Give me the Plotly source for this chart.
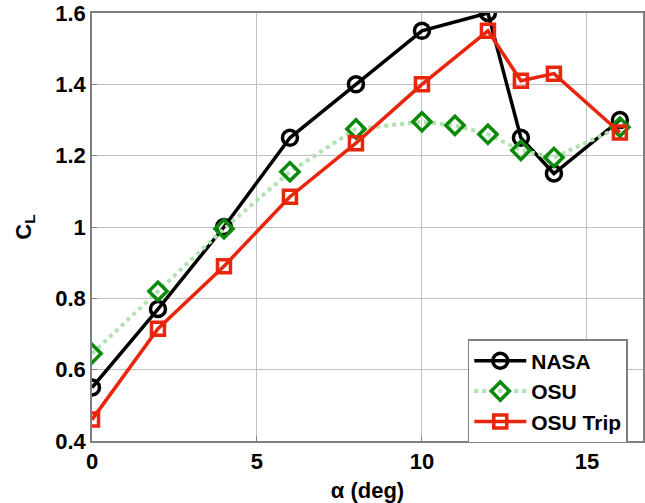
import plotly.graph_objects as go

alpha_nasa = [0, 2, 4, 6, 8, 10, 12, 13, 14, 16]
cl_nasa = [0.55, 0.77, 1.00, 1.25, 1.40, 1.55, 1.60, 1.25, 1.15, 1.30]

alpha_osu = [0, 2, 4, 6, 8, 10, 11, 12, 13, 14, 16]
cl_osu = [0.645, 0.82, 0.995, 1.155, 1.275, 1.295, 1.285, 1.26, 1.215, 1.195, 1.28]

alpha_trip = [0, 2, 4, 6, 8, 10, 12, 13, 14, 16]
cl_trip = [0.46, 0.715, 0.89, 1.085, 1.235, 1.40, 1.55, 1.41, 1.43, 1.265]

x_ticks = [0, 5, 10, 15]
y_ticks = [0.4, 0.6, 0.8, 1.0, 1.2, 1.4, 1.6]
y_tick_labels = ["0.4", "0.6", "0.8", "1", "1.2", "1.4", "1.6"]

FONT = "Liberation Sans"

fig = go.Figure()
fig.add_trace(go.Scatter(
    x=alpha_nasa, y=cl_nasa, name="NASA", mode="lines+markers",
    line=dict(color="black", width=3.5),
    marker=dict(symbol="circle-open", size=15, color="black", line=dict(width=3.5)),
))
fig.add_trace(go.Scatter(
    x=alpha_osu, y=cl_osu, name="OSU", mode="lines+markers",
    line=dict(color="#b2e2b2", width=4, dash="dot"),
    marker=dict(symbol="diamond-open", size=14, color="#0a8a0a", line=dict(width=3.5)),
))
fig.add_trace(go.Scatter(
    x=alpha_trip, y=cl_trip, name="OSU Trip", mode="lines+markers",
    line=dict(color="#e8260c", width=3.5),
    marker=dict(symbol="square-open", size=13, color="#e8260c", line=dict(width=3.5)),
))

axis_common = dict(
    showgrid=True, gridcolor="#c0c0c0", gridwidth=1,
    showline=True, linecolor="#808080", linewidth=1.5, mirror=True,
    ticks="inside", ticklen=5, tickcolor="#808080",
    tickfont=dict(family=FONT, size=22, color="black", weight="bold"),
    zeroline=False,
)

fig.update_xaxes(range=[0, 16.7], tickvals=x_ticks, **axis_common,
                 title=dict(text="α (deg)", font=dict(family=FONT, size=22, color="black", weight="bold"), standoff=10))
fig.update_yaxes(range=[0.4, 1.6], tickvals=y_ticks, ticktext=y_tick_labels, **axis_common,
                 title=dict(text="C<sub>L</sub>", font=dict(family=FONT, size=22, color="black", weight="bold"), standoff=18))

fig.update_layout(
    width=645, height=503,
    margin=dict(l=92, r=0, t=13, b=62),
    plot_bgcolor="white", paper_bgcolor="white",
    showlegend=True,
    legend=dict(
        x=0.682, y=0.238, xanchor="left", yanchor="top",
        bgcolor="white", bordercolor="#808080", borderwidth=1.5,
        font=dict(family=FONT, size=21, color="black", weight="bold"),
        tracegroupgap=0, itemwidth=52,
    ),
)

fig.write_html("out.html")
